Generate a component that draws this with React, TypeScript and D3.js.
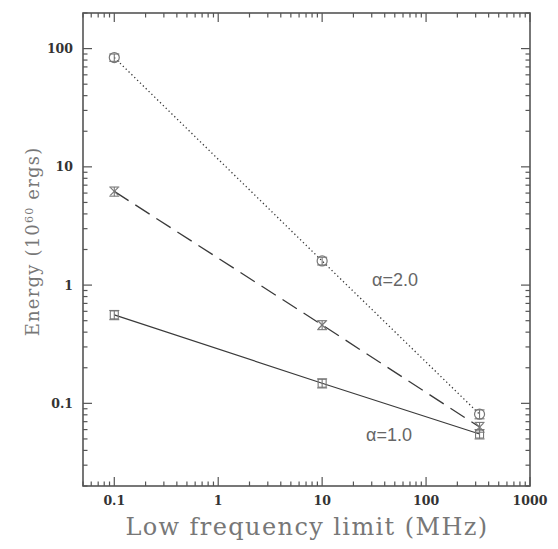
import React from "react";
import * as d3 from "d3";

const freqs = [0.1, 10, 327];
const alpha2Values = [84, 1.6, 0.081];
const alpha2Errors = [6, 0.12, 0.007];
const midValues = [6.2, 0.46, 0.063];
const midErrors = [0.55, 0.04, 0.006];
const alpha1Values = [0.56, 0.148, 0.055];
const alpha1Errors = [0.05, 0.013, 0.005];
const xTickLabels = ["0.1", "1", "10", "100", "1000"];
const yTickLabels = ["0.1", "1", "10", "100"];

const W = 558, H = 549;
const L = 83, R = 530, T = 13, B = 486;

export default function App() {
  const x = d3.scaleLog().domain([0.05, 1000]).range([L, R]);
  const y = d3.scaleLog().domain([0.02, 200]).range([B, T]);
  const axisColor = "#555";
  const markColor = "#777";
  const lineColor = "#3a3a3a";

  const xMinor: number[] = [];
  for (let e = -2; e <= 3; e++) for (let m = 1; m <= 9; m++) {
    const v = m * Math.pow(10, e);
    if (v >= 0.05 && v <= 1000) xMinor.push(v);
  }
  const yMinor: number[] = [];
  for (let e = -2; e <= 2; e++) for (let m = 1; m <= 9; m++) {
    const v = m * Math.pow(10, e);
    if (v >= 0.02 && v <= 200) yMinor.push(v);
  }
  const isMajor = (v: number) => Math.abs(Math.log10(v) - Math.round(Math.log10(v))) < 1e-9;

  const line = d3.line<number>().x((_, i) => x(freqs[i])).y((d) => y(d));

  const errBar = (fx: number, v: number, e: number, key: string) => {
    const cx = x(fx);
    const y1 = y(v + e), y2 = y(v - e);
    return (
      <g key={key} stroke={markColor} strokeWidth={1.1} fill="none">
        <line x1={cx} x2={cx} y1={y1} y2={y2} />
        <line x1={cx - 5} x2={cx + 5} y1={y1} y2={y1} />
        <line x1={cx - 5} x2={cx + 5} y1={y2} y2={y2} />
      </g>
    );
  };

  return (
    <svg width={W} height={H} style={{ display: "block", position: "absolute", left: 0, top: 0, background: "#fff" }}>
      {/* lines */}
      <path d={line(alpha2Values) || ""} fill="none" stroke={lineColor} strokeWidth={1.3} strokeDasharray="1.3 2.7" />
      <path d={line(midValues) || ""} fill="none" stroke={lineColor} strokeWidth={1.3} strokeDasharray="17 8" />
      <path d={line(alpha1Values) || ""} fill="none" stroke={lineColor} strokeWidth={1.2} />

      {/* markers */}
      {alpha2Values.map((v, i) => (
        <g key={"c" + i}>
          {errBar(freqs[i], v, alpha2Errors[i], "ce" + i)}
          <circle cx={x(freqs[i])} cy={y(v)} r={5} fill="none" stroke={markColor} strokeWidth={1.2} />
        </g>
      ))}
      {midValues.map((v, i) => {
        const cx = x(freqs[i]), cy = y(v);
        return (
          <g key={"x" + i}>
            {errBar(freqs[i], v, midErrors[i], "xe" + i)}
            <g stroke={markColor} strokeWidth={1.2}>
              <line x1={cx - 4} x2={cx + 4} y1={cy - 4} y2={cy + 4} />
              <line x1={cx - 4} x2={cx + 4} y1={cy + 4} y2={cy - 4} />
            </g>
          </g>
        );
      })}
      {alpha1Values.map((v, i) => {
        const cx = x(freqs[i]), cy = y(v);
        return (
          <g key={"s" + i}>
            {errBar(freqs[i], v, alpha1Errors[i], "se" + i)}
            <rect x={cx - 4} y={cy - 4} width={8} height={8} fill="none" stroke={markColor} strokeWidth={1.1} />
          </g>
        );
      })}

      {/* frame */}
      <rect x={L} y={T} width={R - L} height={B - T} fill="none" stroke={axisColor} strokeWidth={1.6} />

      {/* x ticks */}
      {xMinor.map((v, i) => {
        const len = isMajor(v) ? 9 : 4.5;
        const px = x(v);
        return (
          <g key={"xt" + i} stroke={axisColor} strokeWidth={1.2}>
            <line x1={px} x2={px} y1={B} y2={B - len} />
            <line x1={px} x2={px} y1={T} y2={T + len} />
          </g>
        );
      })}
      {/* y ticks */}
      {yMinor.map((v, i) => {
        const len = isMajor(v) ? 9 : 4.5;
        const py = y(v);
        return (
          <g key={"yt" + i} stroke={axisColor} strokeWidth={1.2}>
            <line x1={L} x2={L + len} y1={py} y2={py} />
            <line x1={R} x2={R - len} y1={py} y2={py} />
          </g>
        );
      })}

      {/* tick labels */}
      {xTickLabels.map((t) => (
        <text key={"xl" + t} x={x(+t)} y={B + 19} textAnchor="middle" fontFamily="DejaVu Serif" fontWeight="bold" fontSize={12.5} fill="#333">{t}</text>
      ))}
      {yTickLabels.map((t) => (
        <text key={"yl" + t} x={L - 10} y={y(+t) + 4.5} textAnchor="end" fontFamily="DejaVu Serif" fontWeight="bold" fontSize={12.5} fill="#333">{t}</text>
      ))}

      {/* series labels */}
      <text x={372} y={286} fontFamily="Liberation Sans" fontSize={18} fill="#666">α=2.0</text>
      <text x={366} y={441} fontFamily="Liberation Sans" fontSize={18} fill="#666">α=1.0</text>

      {/* axis titles */}
      <text x={307} y={535} textAnchor="middle" fontFamily="DejaVu Serif" fontSize={24} letterSpacing={1.4} fill="#777">Low frequency limit (MHz)</text>
      <text transform={`translate(39, ${(T + B) / 2 - 8}) rotate(-90)`} textAnchor="middle" fontFamily="DejaVu Serif" fontSize={18} letterSpacing={1.2} fill="#777">
        Energy (10<tspan dy={-6} fontSize={11}>60</tspan><tspan dy={6}> ergs)</tspan>
      </text>
    </svg>
  );
}
